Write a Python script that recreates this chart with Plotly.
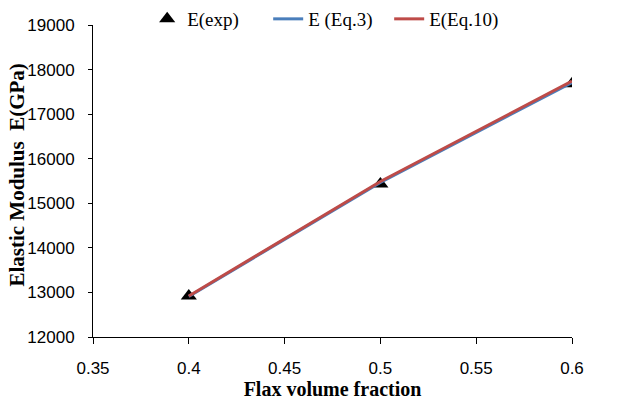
import plotly.graph_objects as go

x_vals = [0.4, 0.5, 0.6]
e_exp = [12920, 15430, 17680]
e_eq3 = [12910, 15470, 17710]
e_eq10 = [12920, 15490, 17740]

x_ticks = [0.35, 0.4, 0.45, 0.5, 0.55, 0.6]
x_tick_labels = ["0.35", "0.4", "0.45", "0.5", "0.55", "0.6"]
y_ticks = [12000, 13000, 14000, 15000, 16000, 17000, 18000, 19000]
y_tick_labels = ["12000", "13000", "14000", "15000", "16000", "17000", "18000", "19000"]

fig = go.Figure()
fig.add_trace(go.Scatter(x=x_vals, y=e_exp, mode="markers", name="E(exp)",
                         marker=dict(symbol="triangle-up", size=14, color="black")))
fig.add_trace(go.Scatter(x=x_vals, y=e_eq3, mode="lines", name="E (Eq.3)",
                         line=dict(color="#4a7ebb", width=3)))
fig.add_trace(go.Scatter(x=x_vals, y=e_eq10, mode="lines", name="E(Eq.10)",
                         line=dict(color="#be4b48", width=3)))

fig.update_layout(
    width=621, height=402,
    margin=dict(l=93, r=49, t=25, b=65, autoexpand=False),
    paper_bgcolor="white", plot_bgcolor="white",
    showlegend=True,
    legend=dict(orientation="h", x=0.237, xanchor="left", xref="container",
                y=1.0, yanchor="top", yref="container",
                font=dict(family="Liberation Serif", size=19, color="black"),
                bgcolor="rgba(0,0,0,0)", tracegroupgap=0, entrywidth=76),
    xaxis=dict(range=[0.35, 0.6], tickvals=x_ticks, ticktext=x_tick_labels,
               showgrid=False, zeroline=False, showline=True, linecolor="black",
               linewidth=1, ticks="outside", ticklen=6, tickcolor="black",
               ticklabelstandoff=10, automargin=False,
               tickfont=dict(family="Liberation Sans", size=17, color="black"),
               title=dict(text="<b>Flax volume fraction</b>",
                          font=dict(family="Liberation Serif", size=20, color="black"),
                          standoff=0)),
    yaxis=dict(range=[12000, 19000], tickvals=y_ticks, ticktext=y_tick_labels,
               showgrid=False, zeroline=False, showline=True, linecolor="black",
               linewidth=1, ticks="outside", ticklen=4, tickcolor="black",
               ticklabelstandoff=10, automargin=False,
               tickfont=dict(family="Liberation Sans", size=17, color="black")),
    annotations=[dict(text="<b>Elastic Modulus  E(GPa)</b>", textangle=-90,
                      xref="paper", yref="paper", x=-0.159, y=0.52,
                      xanchor="center", yanchor="middle", showarrow=False,
                      font=dict(family="Liberation Serif", size=21, color="black"))],
)

fig.write_html("out.html")
